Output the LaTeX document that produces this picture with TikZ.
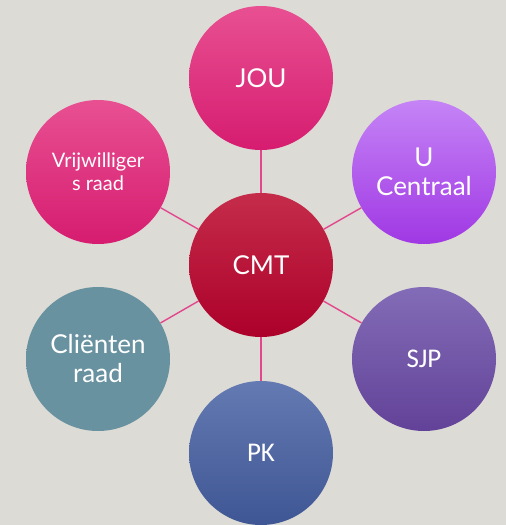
\documentclass[tikz,border=0pt]{standalone}
\usepackage{fontspec}
\setmainfont{Lato}
\newfontfamily\calfont{Carlito}
\usepackage{tikz}
\usetikzlibrary{positioning}
\definecolor{bg}{RGB}{221,219,213}
\definecolor{link}{RGB}{226,70,140}
\definecolor{rozeT}{RGB}{232,80,146}
\definecolor{rozeB}{RGB}{214,28,112}
\definecolor{roodT}{RGB}{197,44,74}
\definecolor{roodB}{RGB}{172,0,42}
\definecolor{paarsT}{RGB}{197,132,246}
\definecolor{paarsB}{RGB}{160,56,228}
\definecolor{violetT}{RGB}{131,108,183}
\definecolor{violetB}{RGB}{98,66,152}
\definecolor{blauwT}{RGB}{100,122,178}
\definecolor{blauwB}{RGB}{62,86,148}
\definecolor{grijsblauw}{RGB}{104,146,160}
\tikzset{%
	every edge/.append style={draw=link, line width=1.4pt},
	bol/.style 2 args = {circle, minimum size=144pt, inner sep=0pt, text=white, align=center,
		top color=#1, bottom color=#2, font=\fontsize{26}{29}\selectfont},
	klein/.style = {font=\fontsize{20}{23}\selectfont},
	cal/.style = {font=\calfont\fontsize{27}{30}\selectfont}
}
\begin{document}
\begin{tikzpicture}[x=1pt, y=-1pt]
	\fill [bg] (0,0) rectangle (506,525);
	\useasboundingbox (0,0) rectangle (506,525);
	\node [bol={roodT}{roodB}] (CMT) at (261,265) {CMT};
	\node [bol={rozeT}{rozeB}] (JOU) at (261,78) {JOU};
	\node [bol={paarsT}{paarsB}] (UC) at (424,172) {U\\Centraal};
	\node [bol={violetT}{violetB}, cal] (SJP) at (424,359) {SJP};
	\node [bol={blauwT}{blauwB}, cal] (PK) at (261,453) {PK};
	\node [bol={grijsblauw}{grijsblauw}] (CR) at (98,359) {Cliënten\\raad};
	\node [bol={rozeT}{rozeB}, klein] (VR) at (98,172) {Vrijwilliger\\s raad};
	\path [-] (CMT) edge (JOU);
	\path [-] (CMT) edge (UC);
	\path [-] (CMT) edge (SJP);
	\path [-] (CMT) edge (PK);
	\path [-] (CMT) edge (CR);
	\path [-] (CMT) edge (VR);
\end{tikzpicture}
\end{document}
